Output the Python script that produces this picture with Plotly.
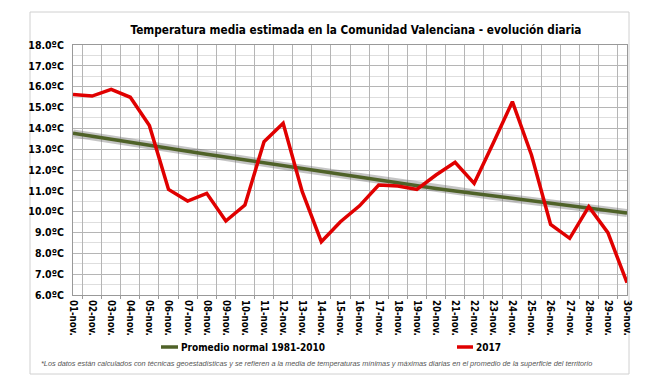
import plotly.graph_objects as go

days = [f"{d:02d}-nov." for d in range(1, 31)]

normal_1981_2010 = [13.76, 13.61, 13.47, 13.33, 13.19, 13.05, 12.90, 12.76, 12.62, 12.48,
                    12.34, 12.20, 12.06, 11.92, 11.78, 11.64, 11.50, 11.36, 11.23, 11.11,
                    10.99, 10.87, 10.75, 10.63, 10.51, 10.40, 10.29, 10.18, 10.05, 9.93]

temp_2017 = [15.63, 15.55, 15.87, 15.49, 14.13, 11.07, 10.51, 10.88, 9.55, 10.32,
             13.36, 14.24, 10.96, 8.56, 9.52, 10.28, 11.28, 11.23, 11.07, 11.76,
             12.37, 11.36, 13.30, 15.28, 12.72, 9.39, 8.72, 10.24, 8.99, 6.59]

y_ticks = [6, 7, 8, 9, 10, 11, 12, 13, 14, 15, 16, 17, 18]
y_tick_labels = [f"{v:.1f}ºC" for v in y_ticks]

series_names = ["Promedio normal 1981-2010", "2017"]
series_colors = ["#4f6228", "#e00000"]

FONT = "DejaVu Sans Condensed, DejaVu Sans, sans-serif"

# the page body adds an 8px margin; work in reference (window) pixels
OFF = 8
W, H = 648 - OFF, 387 - OFF
L, R, T, B = 73 - OFF, 627 - OFF, 45 - OFF, 295 - OFF
PW, PH = R - L, B - T


def px_x(px):
    return (px - OFF - L) / PW


def px_y(py):
    return (B - (py - OFF)) / PH


fig = go.Figure()

# soft shadow under the normal line
fig.add_trace(go.Scatter(
    x=days, y=normal_1981_2010, mode="lines",
    line=dict(color="rgba(110,110,110,0.4)", width=8),
    hoverinfo="skip", showlegend=False))

fig.add_trace(go.Scatter(
    x=days, y=normal_1981_2010, mode="lines", name=series_names[0],
    line=dict(color=series_colors[0], width=3.5), showlegend=False))

fig.add_trace(go.Scatter(
    x=days, y=temp_2017, mode="lines", name=series_names[1],
    line=dict(color=series_colors[1], width=3.5), showlegend=False))

fig.update_layout(
    width=W, height=H,
    margin=dict(l=L, r=W - R, t=T, b=H - B, autoexpand=False),
    paper_bgcolor="white", plot_bgcolor="white",
    font=dict(family=FONT, color="#000000"),
    title=dict(text="<b>Temperatura media estimada en la Comunidad Valenciana - evolución diaria</b>",
               x=(356 - OFF) / W, xanchor="center", xref="container",
               y=1 - (30 - OFF) / H, yanchor="middle", yref="container",
               font=dict(family=FONT, size=11.7, color="#000000")),
    showlegend=False,
)

fig.update_xaxes(
    type="category", tickson="boundaries",
    showgrid=True, gridcolor="#b5b5b5", gridwidth=1,
    showline=True, linecolor="#999999", linewidth=1, mirror=True,
    ticks="outside", ticklen=3, tickcolor="#999999",
    ticklabelstandoff=2,
    tickangle=90, tickfont=dict(family=FONT, size=9.6, color="#000000"),
    tickprefix="<b>", ticksuffix="</b>", automargin=False,
)

fig.update_yaxes(
    range=[6, 18], tickvals=y_ticks, ticktext=[f"<b>{t}</b>" for t in y_tick_labels],
    showgrid=True, gridcolor="#b5b5b5", gridwidth=1,
    minor=dict(dtick=0.5, showgrid=True, gridcolor="#dedede", gridwidth=1),
    showline=True, linecolor="#999999", linewidth=1, mirror=True,
    ticks="", ticklabelstandoff=6,
    tickfont=dict(family=FONT, size=10.5, color="#000000"),
    zeroline=False, automargin=False,
)

# outer chart frame
fig.add_shape(type="rect", xref="paper", yref="paper",
              x0=px_x(30), x1=px_x(629), y0=px_y(374), y1=px_y(12),
              line=dict(color="#d0d0d0", width=1), fillcolor="rgba(0,0,0,0)", layer="below")

# legend (drawn manually to reproduce the reference placement)
legend_items = [(161, 178, 347), (457, 473, 347)]
for (x0, x1, yy), name, col in zip(legend_items, series_names, series_colors):
    fig.add_shape(type="line", xref="paper", yref="paper",
                  x0=px_x(x0), x1=px_x(x1), y0=px_y(yy), y1=px_y(yy),
                  line=dict(color=col, width=3.5))
    fig.add_annotation(text=f"<b>{name}</b>", xref="paper", yref="paper",
                       x=px_x(x1 + 1), y=px_y(yy), xanchor="left", yanchor="middle",
                       showarrow=False, font=dict(family=FONT, size=10, color="#000000"))

fig.add_annotation(
    text="<i>*Los datos están calculados con técnicas geoestadísticas y se refieren a la media de temperaturas mínimas y máximas diarias en el promedio de la superficie del territorio</i>",
    xref="paper", yref="paper", x=px_x(316), y=px_y(363),
    xanchor="center", yanchor="middle", showarrow=False,
    font=dict(family="Liberation Sans, Arial, sans-serif", size=7.3, color="#555555"))

fig.write_html("out.html")
